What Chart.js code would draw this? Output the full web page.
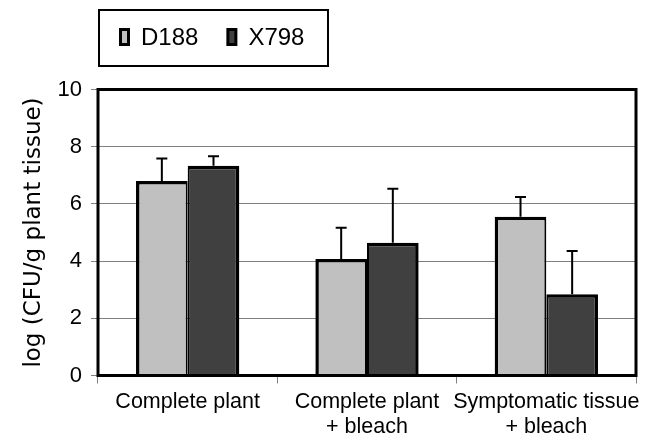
<!DOCTYPE html>
<html>
<head>
<meta charset="utf-8">
<script src="https://cdn.jsdelivr.net/npm/chart.js@4.4.1/dist/chart.umd.min.js"></script>
<style>
  html, body { margin: 0; padding: 0; background: #fff; }
  #wrap { width: 649px; height: 442px; }
</style>
</head>
<body>
<div id="wrap"><canvas id="chart" width="649" height="442"></canvas></div>
<script>
// Values (log CFU/g plant tissue), upper error only
const categories = [["Complete plant"], ["Complete plant", "+ bleach"], ["Symptomatic tissue", "+ bleach"]];
const seriesNames = ["D188", "X798"];
const d188Means = [6.80, 4.07, 5.55];
const d188Errors = [0.79, 1.10, 0.69];
const x798Means = [7.33, 4.64, 2.84];
const x798Errors = [0.34, 1.89, 1.51];
const yTicks = [0, 2, 4, 6, 8, 10];

const LIGHT = "#c0c0c0";
const DARK = "#404040";

// Upper error bars with caps
const errorBars = {
  id: "errorBars",
  afterDatasetsDraw(chart) {
    const ctx = chart.ctx;
    const y = chart.scales.y;
    chart.data.datasets.forEach((ds, i) => {
      chart.getDatasetMeta(i).data.forEach((bar, j) => {
        const top = y.getPixelForValue(ds.data[j] + ds.errors[j]);
        ctx.save();
        ctx.strokeStyle = "#000";
        ctx.lineWidth = 2;
        ctx.beginPath();
        ctx.moveTo(bar.x, bar.y);
        ctx.lineTo(bar.x, top);
        ctx.moveTo(bar.x - 5.5, top);
        ctx.lineTo(bar.x + 5.5, top);
        ctx.stroke();
        ctx.restore();
      });
    });
  },
};

// Thick frame round the plot area
const frame = {
  id: "frame",
  afterDatasetsDraw(chart) {
    const { left, top, right, bottom } = chart.chartArea;
    const ctx = chart.ctx;
    ctx.save();
    ctx.strokeStyle = "#000";
    ctx.lineWidth = 3;
    ctx.strokeRect(left, top, right - left, bottom - top);
    ctx.restore();
  },
};

// Boxed legend in the top left corner
const boxLegend = {
  id: "boxLegend",
  afterDraw(chart) {
    const ctx = chart.ctx;
    ctx.save();
    ctx.strokeStyle = "#000";
    ctx.lineWidth = 2;
    ctx.strokeRect(99, 10, 229, 56);
    ctx.font = "24px 'Liberation Sans', Arial, sans-serif";
    ctx.textBaseline = "alphabetic";
    let x = 119;
    chart.data.datasets.forEach((ds) => {
      ctx.fillStyle = "#000";
      ctx.fillRect(x, 28, 11, 18);
      ctx.fillStyle = ds.backgroundColor;
      ctx.fillRect(x + 3, 31, 5, 12);
      ctx.fillStyle = "#000";
      ctx.fillText(ds.label, x + 22, 45);
      x += 22 + ctx.measureText(ds.label).width + 28;
    });
    ctx.restore();
  },
};

new Chart(document.getElementById("chart"), {
  type: "bar",
  data: {
    labels: categories,
    datasets: [
      {
        label: seriesNames[0],
        data: d188Means,
        errors: d188Errors,
        backgroundColor: LIGHT,
        borderColor: "#000",
        borderWidth: { top: 3.5, left: 3.5, right: 2, bottom: 0 },
        borderSkipped: false,
      },
      {
        label: seriesNames[1],
        data: x798Means,
        errors: x798Errors,
        backgroundColor: DARK,
        borderColor: "#000",
        borderWidth: { top: 3.5, left: 2, right: 3.5, bottom: 0 },
        borderSkipped: false,
      },
    ],
  },
  options: {
    responsive: false,
    animation: false,
    categoryPercentage: 0.576,
    barPercentage: 1.0,
    layout: { padding: { top: 89.5, right: 13, left: 0, bottom: 0 } },
    plugins: {
      legend: { display: false },
      tooltip: { enabled: false },
    },
    scales: {
      x: {
        offset: true,
        grid: { drawOnChartArea: false, color: "#808080", tickLength: 8 },
        border: { display: false },
        ticks: {
          color: "#000",
          padding: 6,
          maxRotation: 0,
          autoSkip: false,
          font: { family: "'Liberation Sans', Arial, sans-serif", size: 21.5, lineHeight: 1.17 },
        },
        afterFit: (s) => { s.height = 66.5; s.paddingLeft = 0; s.paddingRight = 0; },
      },
      y: {
        min: 0,
        max: 10,
        afterBuildTicks: (s) => { s.ticks = yTicks.map((v) => ({ value: v })); },
        grid: { color: "#808080", lineWidth: 1, tickLength: 7 },
        border: { display: false },
        ticks: {
          color: "#000",
          padding: 9,
          font: { family: "'Liberation Sans', Arial, sans-serif", size: 22 },
        },
        title: {
          display: true,
          text: "log (CFU/g plant tissue)",
          color: "#000",
          padding: { top: 20, bottom: 0 },
          font: { family: "'DejaVu Sans', sans-serif", size: 23 },
        },
        afterFit: (s) => { s.width = 98; },
      },
    },
  },
  plugins: [errorBars, frame, boxLegend],
});
</script>
</body>
</html>
